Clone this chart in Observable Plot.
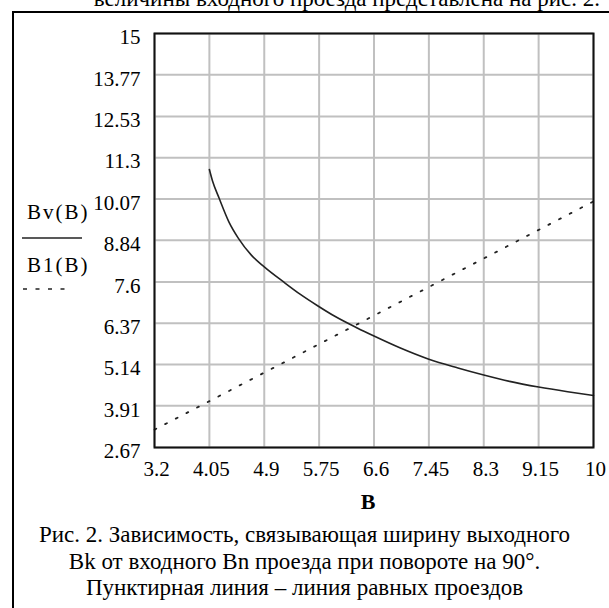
<!DOCTYPE html>
<html><head><meta charset="utf-8">
<script src="https://cdn.jsdelivr.net/npm/d3@7"></script>
<script src="https://cdn.jsdelivr.net/npm/@observablehq/plot@0.6"></script>
<style>
html,body{margin:0;padding:0;background:#fff;}
#wrap{position:relative;width:609px;height:608px;overflow:hidden;background:#fff;}
#chart{position:absolute;left:0;top:0;}
.border{position:absolute;left:12px;top:11px;width:700px;height:700px;border:2px solid #000;box-sizing:border-box;}
.toptext{position:absolute;right:9px;top:-13px;font-family:"Liberation Serif";font-size:23px;line-height:23px;white-space:nowrap;color:#000;}
.leg{position:absolute;font-family:"Liberation Serif";font-size:21px;letter-spacing:2px;color:#000;white-space:nowrap;line-height:22px;}
.cap{position:absolute;left:0;width:609px;text-align:center;font-family:"Liberation Serif";font-size:23px;color:#000;white-space:nowrap;line-height:26px;}
</style></head>
<body>
<div id="wrap">
  <div class="toptext">величины входного проезда представлена на рис. 2.</div>
  <div class="border"></div>
  <div id="chart"></div>
  <div class="leg" style="left:27px;top:201px;">Bv(B)</div>
  <svg style="position:absolute;left:0;top:0" width="100" height="300">
    <line x1="22" x2="82" y1="238" y2="238" stroke="#222" stroke-width="1.6"/>
    <line x1="23" x2="70" y1="289" y2="289" stroke="#222" stroke-width="1.6" stroke-dasharray="4,8.5"/>
  </svg>
  <div class="leg" style="left:27px;top:254px;">B1(B)</div>
  <div class="cap" style="top:522px;">Рис. 2. Зависимость, связывающая ширину выходного</div>
  <div class="cap" style="top:549px;">Bk от входного Bn проезда при повороте на 90°.</div>
  <div class="cap" style="top:575px;">Пунктирная линия – линия равных проездов</div>
</div>
<script>
const xTicks = [3.2, 4.05, 4.9, 5.75, 6.6, 7.45, 8.3, 9.15, 10];
const xTickLabels = ["3.2", "4.05", "4.9", "5.75", "6.6", "7.45", "8.3", "9.15", "10"];
const yTicks = [2.67, 3.91, 5.14, 6.37, 7.6, 8.84, 10.07, 11.3, 12.53, 13.77, 15];
const yTickLabels = ["2.67", "3.91", "5.14", "6.37", "7.6", "8.84", "10.07", "11.3", "12.53", "13.77", "15"];

// Bv(B) — solid curve
const bValues  = [4.05, 4.1, 4.2, 4.35, 4.5, 4.7, 4.9, 5.2, 5.46, 5.72, 6.0, 6.34, 6.6, 7.0, 7.45, 7.9, 8.3, 8.7, 9.15, 9.6, 10.0];
const bvValues = [10.95, 10.6, 10.1, 9.4, 8.9, 8.4, 8.05, 7.6, 7.23, 6.9, 6.57, 6.23, 5.99, 5.64, 5.3, 5.04, 4.83, 4.64, 4.47, 4.33, 4.22];

// B1(B) — dotted line of equal widths
const b1B      = [3.2, 10.0];
const b1Values = [3.2, 10.0];

const bvData = bValues.map((b, i) => ({b, v: bvValues[i]}));
const b1Data = b1B.map((b, i) => ({b, v: b1Values[i]}));

const chart = Plot.plot({
  width: 609,
  height: 608,
  marginLeft: 154,
  marginRight: 16,
  marginTop: 33,
  marginBottom: 161,
  x: {domain: [3.2, 10]},
  y: {domain: [2.67, 15]},
  style: {fontFamily: "Liberation Serif", fontSize: "21px", color: "#000", background: "transparent", overflow: "visible"},
  marks: [
    Plot.gridX(xTicks, {stroke: "#c0c0c0", strokeOpacity: 1, strokeWidth: 2}),
    Plot.gridY(yTicks, {stroke: "#c0c0c0", strokeOpacity: 1, strokeWidth: 2}),
    Plot.line(b1Data, {x: "b", y: "v", stroke: "#222", strokeWidth: 1.8, strokeDasharray: "2,10"}),
    Plot.line(bvData, {x: "b", y: "v", curve: "monotone-x", stroke: "#222", strokeWidth: 1.6}),
    Plot.frame({stroke: "#111", strokeWidth: 2}),
    Plot.axisX(xTicks, {tickSize: 0, tickPadding: 14, dx: 2, fontSize: 21, tickFormat: d => xTickLabels[xTicks.indexOf(d)], label: null}),
    Plot.axisY(yTicks, {tickSize: 0, tickPadding: 14, dy: 4, fontSize: 21, tickFormat: d => yTickLabels[yTicks.indexOf(d)], label: null}),
    Plot.text(["B"], {frameAnchor: "bottom", dx: -6, dy: 61, fontSize: 22, fontWeight: "bold", text: d => d})
  ]
});
document.getElementById("chart").appendChild(chart);
</script>
</body></html>
